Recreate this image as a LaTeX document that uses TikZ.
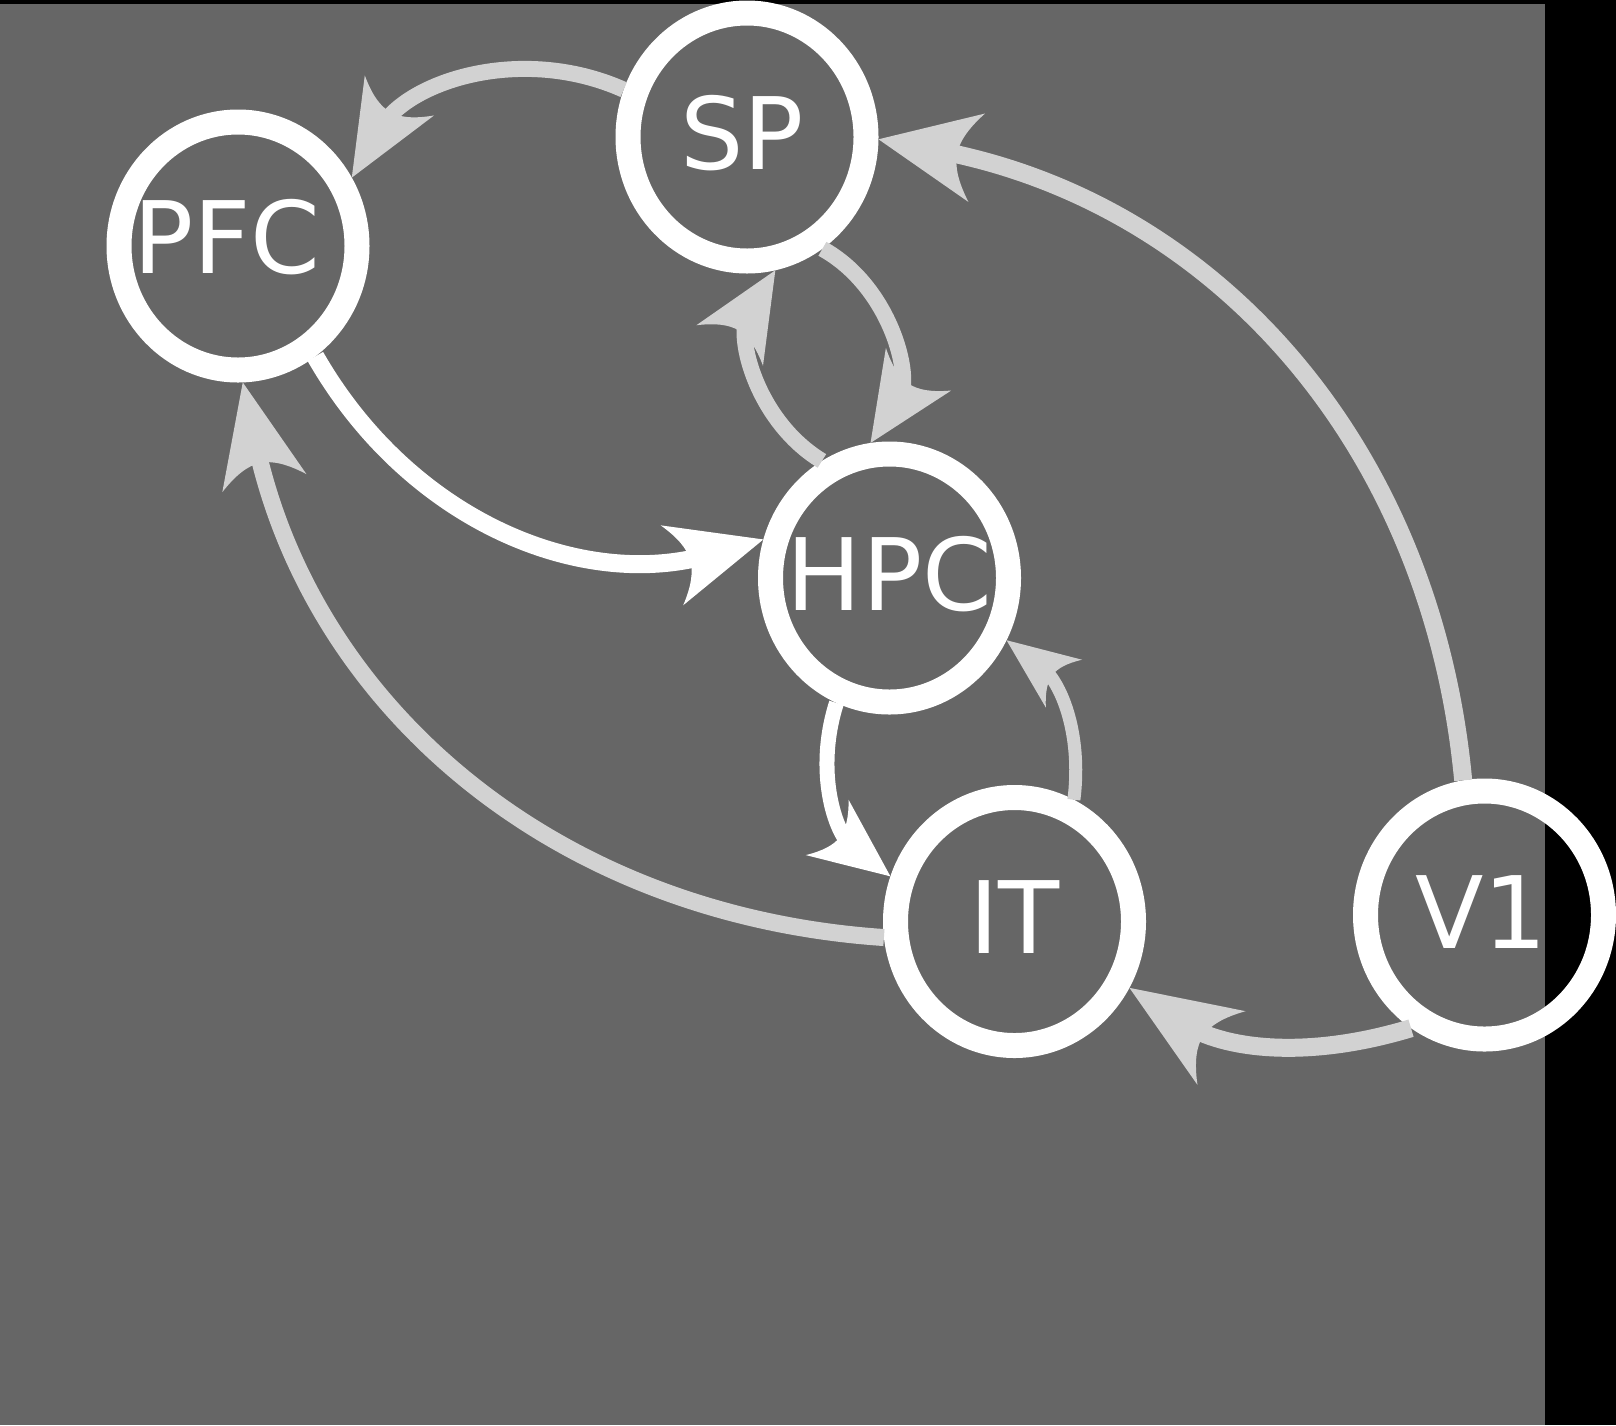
\documentclass[tikz,border=0pt]{standalone}
\usepackage{fontspec}
\newfontfamily\dvs{DejaVu Sans}
\usetikzlibrary{shapes.geometric,arrows.meta,bending}
\definecolor{bggray}{HTML}{666666}
\definecolor{lgray}{HTML}{D2D2D2}
\pgfdeclarearrow{
  name = Swoop,
  parameters = {\the\pgfarrowlength,\the\pgfarrowwidth},
  setup code = {
    \pgfarrowssettipend{0pt}
    \pgfarrowssetbackend{-\pgfarrowlength}
    \pgfarrowssetlineend{-0.6\pgfarrowlength}
    \pgfarrowssavethe\pgfarrowlength
    \pgfarrowssavethe\pgfarrowwidth
  },
  drawing code = {
    \pgfpathmoveto{\pgfpointorigin}
    \pgfpathlineto{\pgfpoint{-\pgfarrowlength}{0.5\pgfarrowwidth}}
    \pgfpathcurveto{\pgfpoint{-0.86\pgfarrowlength}{0.30\pgfarrowwidth}}{\pgfpoint{-0.80\pgfarrowlength}{0.14\pgfarrowwidth}}{\pgfpoint{-0.80\pgfarrowlength}{0pt}}
    \pgfpathcurveto{\pgfpoint{-0.80\pgfarrowlength}{-0.14\pgfarrowwidth}}{\pgfpoint{-0.86\pgfarrowlength}{-0.30\pgfarrowwidth}}{\pgfpoint{-\pgfarrowlength}{-0.5\pgfarrowwidth}}
    \pgfpathclose
    \pgfusepathqfill
  },
  defaults = {length = 100pt, width = 85pt}
}
\tikzset{
  nd/.style={ellipse, draw=white, line width=25pt, minimum width=238pt, minimum height=248pt, inner sep=0pt},
  lbl/.style={text=white, font=\dvs\fontsize{100pt}{100pt}\selectfont, inner sep=0pt},
  gedge/.style={draw=lgray},
  wedge/.style={draw=white},
}
\begin{document}
\begin{tikzpicture}[x=1pt,y=-1pt]
\useasboundingbox (0,0) rectangle (1616,1425);
\fill[black] (0,0) rectangle (1616,1425);
\fill[bggray] (0,4) rectangle (1545,1425);

\node[nd, label={[lbl,xshift=-11pt,yshift=9pt]center:PFC}] (PFC) at (238,246) {};
\node[nd, label={[lbl,xshift=-5pt,yshift=4pt]center:SP}] (SP) at (747,137) {};
\node[nd, label={[lbl,xshift=0pt,yshift=4pt]center:HPC}] (HPC) at (889.5,578) {};
\node[nd, label={[lbl,xshift=0pt,yshift=4pt]center:IT}] (IT) at (1014.5,921.5) {};
\node[nd, label={[lbl,xshift=-3pt,yshift=3pt]center:V1}] (V1) at (1484.5,915) {};

% SP -> PFC
\draw[gedge, line width=16pt, -{Swoop[length=95pt,width=80pt,quick]}] (SP.159) to[bend right=42] (PFC.31);
% V1 -> SP
\draw[gedge, line width=18pt, -{Swoop[length=100pt,width=90pt,quick]}] (V1.99) to[bend right=37] (SP.-1);
% SP -> HPC
\draw[gedge, line width=16pt, -{Swoop[length=88pt,width=78pt,quick]}] (SP.-56) to[bend left=47] (HPC.98);
% HPC -> SP
\draw[gedge, line width=16pt, -{Swoop[length=88pt,width=78pt,quick]}] (HPC.120) to[bend left=45] (SP.-78);
% PFC -> HPC
\draw[wedge, line width=18pt, -{Swoop[length=95pt,width=83pt,quick]}] (PFC.-55) to[bend right=38] (HPC.163);
% IT -> PFC
\draw[gedge, line width=17pt, -{Swoop[length=103pt,width=86pt,quick]}] (IT.187) to[bend left=37] (PFC.-88);
% HPC -> IT
\draw[wedge, line width=15pt, -{Swoop[length=80pt,width=70pt,quick]}] (HPC.247) to[bend right=35] (IT.160);
% IT -> HPC
\draw[gedge, line width=13pt, -{Swoop[length=72pt,width=60pt,quick]}] (IT.64) to[bend right=30] (HPC.-28);
% V1 -> IT
\draw[gedge, line width=18pt, -{Swoop[length=110pt,width=88pt,quick]}] (V1.237) to[bend left=25] (IT.-30);
\end{tikzpicture}
\end{document}
